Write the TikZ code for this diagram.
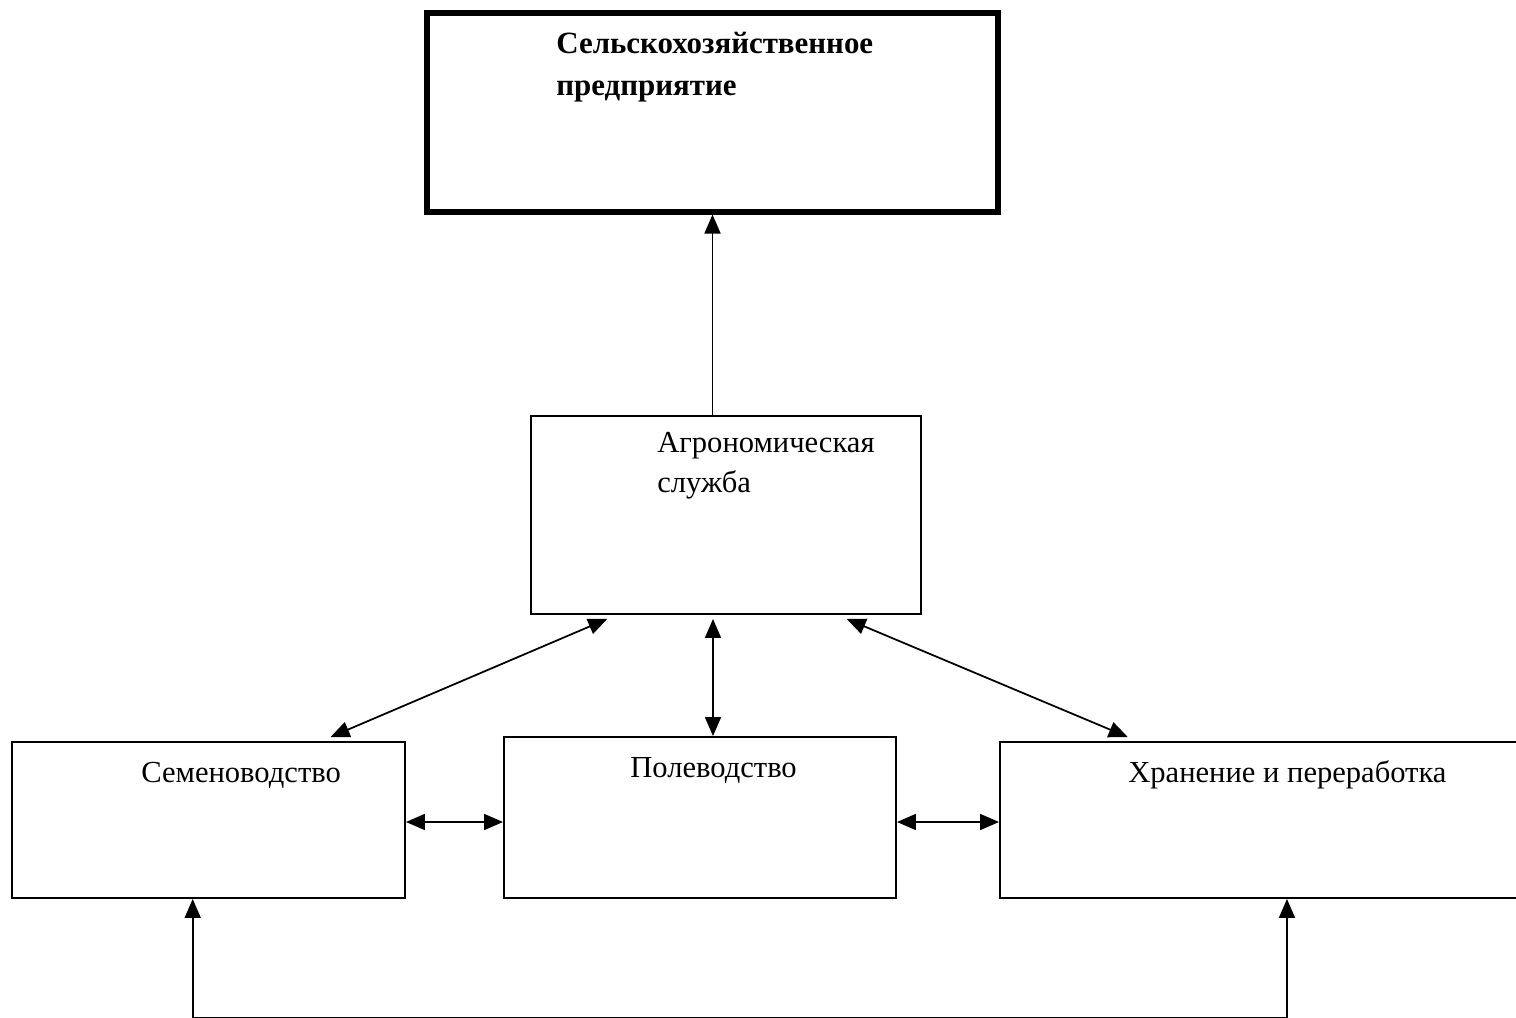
\documentclass[tikz,border=0pt]{standalone}
\usepackage{fontspec}
\newfontfamily\diagfont{Liberation Serif}
\usetikzlibrary{arrows.meta,fit,calc}
\begin{document}
\begin{tikzpicture}[x=0.02cm,y=-0.02cm,
  box/.style={draw, line width=1.1pt, inner sep=0pt},
  mainbox/.style={draw, line width=2.9pt, inner sep=0pt},
  lbl/.style={inner sep=0pt, anchor=base west, font=\diagfont\fontsize{17.4pt}{20pt}\selectfont},
  titlelbl/.style={inner sep=0pt, anchor=base west, font=\diagfont\bfseries\fontsize{17.6pt}{20pt}\selectfont},
  link/.style={line width=1pt, -{Triangle[length=0.38cm,width=0.32cm]}},
  biglink/.style={line width=1pt, {Triangle[length=0.38cm,width=0.32cm]}-{Triangle[length=0.38cm,width=0.32cm]}}]
  \useasboundingbox (0,0) rectangle (1516,1018);
  \clip (0,0) rectangle (1516,1018);

  % boxes
  \node[mainbox, fit={(427,13) (998,212)}] (farm) {};
  \node[box, fit={(531,416) (921,614)}] (agro) {};
  \node[box, fit={(12,742) (405,898)}] (seed) {};
  \node[box, fit={(504,737) (896,898)}] (field) {};
  \node[box, fit={(1000,742) (1530,898)}] (store) {};

  % labels
  \node[titlelbl] (farmA) at (556,53) {Сельскохозяйственное};
  \node[titlelbl] (farmB) at (556,95) {предприятие};
  \node[lbl] (agroA) at (657,452) {Агрономическая};
  \node[lbl] (agroB) at (657,492) {служба};
  \node[lbl] (seedT) at (141,782) {Семеноводство};
  \node[lbl] (fieldT) at (630,777) {Полеводство};
  \node[lbl] (storeT) at (1128,782) {Хранение и переработка};

  % connectors
  \coordinate (mid) at ($(field.north west)!0.533!(field.north east)$);
  \draw[link] (agro.north -| farm.south) -- (farm.south);
  \draw[biglink] ($(agro.south west)!0.197!(agro.south east)+(0,4)$) -- ($(seed.north west)!0.809!(seed.north east)+(0,-4)$);
  \draw[biglink] ($(mid |- agro.south)+(0,4)$) -- (mid);
  \draw[biglink] ($(agro.south west)!0.808!(agro.south east)+(0,4)$) -- ($(store.north west)!0.242!(store.north east)+(0,-4)$);
  \draw[biglink] (seed.east |- 0,822) -- (field.west |- 0,822);
  \draw[biglink] (field.east |- 0,822) -- (store.west |- 0,822);
  \draw[biglink] ($(seed.south west)!0.46!(seed.south east)$) -- ++(0,119) -| ($(store.south west)!0.5413!(store.south east)$);
\end{tikzpicture}
\end{document}
